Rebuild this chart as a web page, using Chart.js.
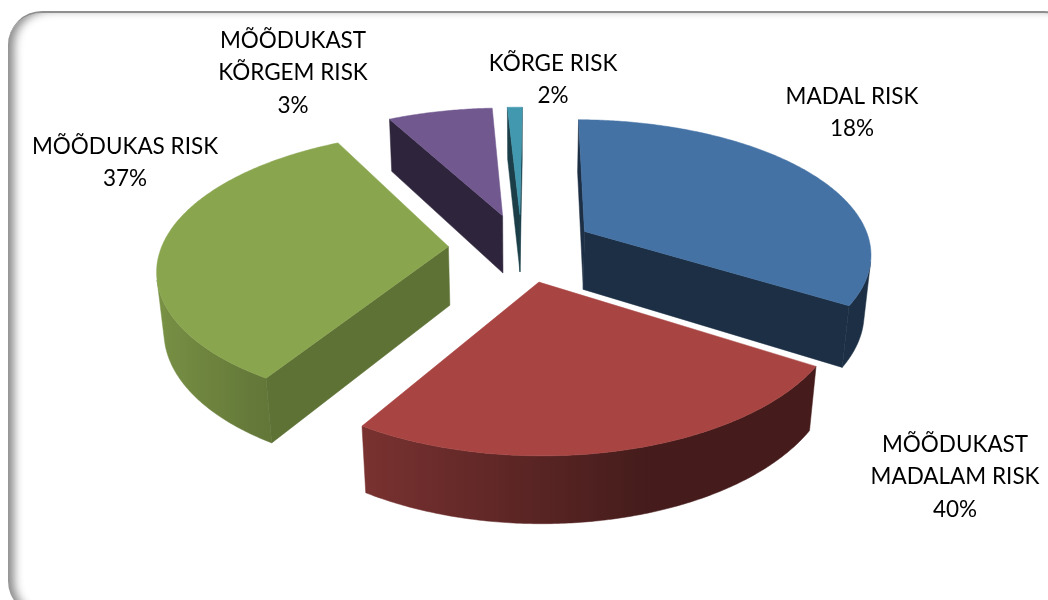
<!DOCTYPE html>
<html><head><meta charset="utf-8">
<script src="https://cdn.jsdelivr.net/npm/chart.js@4"></script>
<style>
html,body{margin:0;padding:0;background:#fff;overflow:hidden}
#wrap{position:absolute;left:0;top:0;width:1048px;height:600px;overflow:hidden}
#frame{position:absolute;left:8px;top:11px;width:1070px;height:604px;box-sizing:border-box;border-radius:34px;border-top:2px solid #8e8e8e;box-shadow:inset 9px 0 10px -3px #8a8a8a}
canvas{position:absolute;left:0;top:0}
</style></head><body>
<div id="wrap"><div id="frame"></div><canvas id="c" width="1048" height="600"></canvas></div>
<script>
// Data
const categories = ["MADAL RISK","MÕÕDUKAST MADALAM RISK","MÕÕDUKAS RISK","MÕÕDUKAST KÕRGEM RISK","KÕRGE RISK"];
const printedPercents = [18,40,37,3,2];
const drawnShares = [33.75,24.86,33.47,6.94,0.98];
const sliceColors = ["#4472a5","#a84543","#89a54e","#71588f","#4198af"];

// Label layout: wrapped lines + centre x + line centres
const labelLines = [["MADAL RISK"],["MÕÕDUKAST","MADALAM RISK"],["MÕÕDUKAS RISK"],["MÕÕDUKAST","KÕRGEM RISK"],["KÕRGE RISK"]];
const labelCx = [852,955,125,293,553];
const labelTop = [96.5,444.5,146.5,40.5,63.5];
const labelStep = 32.7;

// 3D view
const view = {cx:521.5, cy:247.5, A:287, B:134, H:60, p:0.158, px:0.15, q:0.02, e:0.255};
const drawOrder = [4,3,0,2,1];
const radialShade = [0.41,0.41,0.69,0.41,0.41];

function project(u,v,z){
  const w = 1 - view.p*v + view.q*z, wx = 1 - view.px*v + view.q*z;
  return [view.cx + view.A*u/wx, view.cy + (view.B*v + view.H*z)/w];
}
function shade(hex,r){
  const n=parseInt(hex.slice(1),16);
  return `rgb(${Math.round((n>>16&255)*r)},${Math.round((n>>8&255)*r)},${Math.round((n&255)*r)})`;
}
function wallRatio(nu){
  return nu>=0.3 ? 0.41 : 0.9-0.377*(nu+1);
}
function area(pts){
  let s=0;
  pts.forEach((p,k)=>{const q=pts[(k+1)%pts.length];s+=p[0]*q[1]-q[0]*p[1];});
  return s;
}
const pie3d = {
  id:'pie3d',
  beforeDatasetsDraw(chart){
    const ctx = chart.ctx, arcs = chart.getDatasetMeta(0).data;
    ctx.save(); ctx.lineJoin='round';
    for(const i of drawOrder){
      const a0=arcs[i].startAngle, a1=arcs[i].endAngle, mid=(a0+a1)/2;
      const ox=view.e*Math.cos(mid), oy=view.e*Math.sin(mid);
      const col=sliceColors[i];
      const rim=(a,z)=>project(ox+Math.cos(a),oy+Math.sin(a),z);
      const apex=z=>project(ox,oy,z);
      const fillPoly=(pts,c)=>{ctx.beginPath();pts.forEach((p,k)=>k?ctx.lineTo(p[0],p[1]):ctx.moveTo(p[0],p[1]));ctx.closePath();ctx.fillStyle=c;ctx.strokeStyle=c;ctx.lineWidth=0.5;ctx.fill();ctx.stroke();};
      const rad=shade(col,radialShade[i]);
      const w0=[apex(0),rim(a0,0),rim(a0,1),apex(1)], w1=[apex(0),rim(a1,0),rim(a1,1),apex(1)];
      // outer wall: only the stretch that faces the viewer, one polygon with a horizontal gradient
      const n=Math.max(8,Math.ceil((a1-a0)/0.01));
      const ang=[];
      for(let k=0;k<n;k++){
        const s=a0+(a1-a0)*k/n,t=a0+(a1-a0)*(k+1)/n;
        if(area([rim(s,0),rim(t,0),rim(t,1),rim(s,1)])<0){ if(!ang.length||ang[ang.length-1]!==s) ang.push(s); ang.push(t);}
      }
      if(ang.length){
        const tops=ang.map(a=>rim(a,0)), bots=ang.map(a=>rim(a,1));
        const xs=tops.map(p=>p[0]), xmin=Math.min(...xs), xmax=Math.max(...xs);
        const g=ctx.createLinearGradient(xmin,0,xmax,0);
        const order=ang.map((a,k)=>[xs[k],a]).sort((p,q)=>p[0]-q[0]);
        order.forEach((o,k)=>{ if(k%4===0||k===order.length-1) g.addColorStop(Math.min(1,Math.max(0,(o[0]-xmin)/(xmax-xmin||1))),shade(col,wallRatio(Math.cos(o[1])))); });
        fillPoly(tops.concat(bots.reverse()),g);
      }
      if(area(w0)<0) fillPoly(w0,rad);
      if(area(w1)>0) fillPoly(w1,rad);
      const top=[apex(0)];
      for(let k=0;k<=n;k++) top.push(rim(a0+(a1-a0)*k/n,0));
      fillPoly(top,col);
    }
    ctx.restore();
    return false;
  },
  afterDraw(chart){
    const ctx=chart.ctx;
    ctx.save();
    ctx.font='22.5px Lato';ctx.fillStyle='#000';ctx.textAlign='center';ctx.textBaseline='middle';
    categories.forEach((c,i)=>{
      const lines=[...labelLines[i],printedPercents[i]+'%'];
      lines.forEach((t,k)=>ctx.fillText(t,labelCx[i],labelTop[i]+k*labelStep));
    });
    ctx.restore();
  }
};
new Chart(document.getElementById('c'),{
  type:'pie',
  data:{labels:categories,datasets:[{data:drawnShares,backgroundColor:sliceColors,borderWidth:0}]},
  options:{responsive:false,animation:false,rotation:0.5,
    plugins:{legend:{display:false},tooltip:{enabled:false}}},
  plugins:[pie3d]
});
</script>
</body></html>
